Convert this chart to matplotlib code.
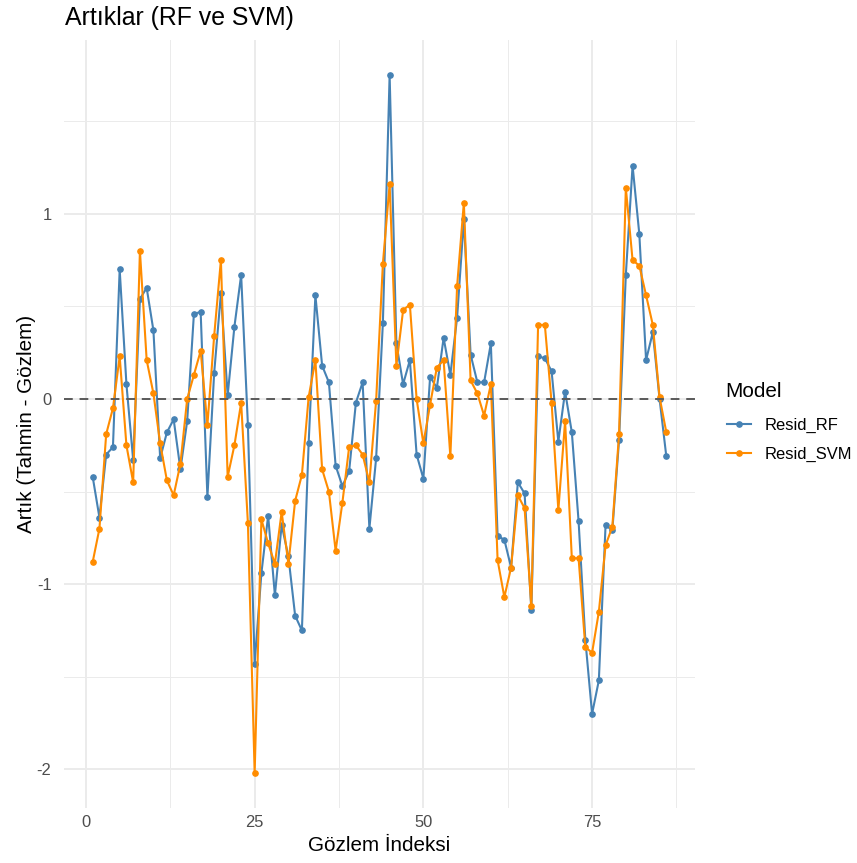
import matplotlib
matplotlib.use("Agg")
import matplotlib.pyplot as plt
import numpy as np

plt.rcParams['font.family'] = ['Liberation Sans', 'DejaVu Sans']

# Data
index = list(range(1, 87))
resid_rf = [-0.42, -0.64, -0.30, -0.26, 0.70, 0.08, -0.33, 0.54, 0.60, 0.37,
            -0.32, -0.18, -0.11, -0.38, -0.12, 0.46, 0.47, -0.53, 0.14, 0.57,
            0.02, 0.39, 0.67, -0.14, -1.43, -0.94, -0.63, -1.06, -0.68, -0.85,
            -1.17, -1.25, -0.24, 0.56, 0.18, 0.09, -0.36, -0.47, -0.39, -0.02,
            0.09, -0.70, -0.32, 0.41, 1.75, 0.30, 0.08, 0.21, -0.30, -0.43,
            0.12, 0.06, 0.33, 0.13, 0.44, 0.97, 0.24, 0.09, 0.09, 0.30,
            -0.74, -0.76, -0.91, -0.45, -0.51, -1.14, 0.23, 0.22, 0.15, -0.23,
            0.04, -0.18, -0.66, -1.30, -1.70, -1.52, -0.68, -0.71, -0.22, 0.67,
            1.26, 0.89, 0.21, 0.36, 0.00, -0.31]
resid_svm = [-0.88, -0.70, -0.19, -0.05, 0.23, -0.25, -0.45, 0.80, 0.21, 0.03,
             -0.24, -0.44, -0.52, -0.35, 0.00, 0.13, 0.26, -0.14, 0.34, 0.75,
             -0.42, -0.25, -0.02, -0.67, -2.02, -0.65, -0.78, -0.89, -0.61, -0.89,
             -0.55, -0.41, 0.01, 0.21, -0.38, -0.50, -0.82, -0.56, -0.26, -0.25,
             -0.30, -0.45, -0.01, 0.73, 1.16, 0.18, 0.48, 0.51, 0.00, -0.24,
             -0.03, 0.17, 0.21, -0.31, 0.61, 1.06, 0.10, 0.03, -0.09, 0.08,
             -0.87, -1.07, -0.91, -0.52, -0.59, -1.12, 0.40, 0.40, -0.02, -0.60,
             -0.12, -0.86, -0.86, -1.34, -1.37, -1.15, -0.79, -0.69, -0.19, 1.14,
             0.75, 0.72, 0.56, 0.40, 0.01, -0.18]
series_names = ["Resid_RF", "Resid_SVM"]
series_colors = ["#4682B4", "#FF8C00"]
x_ticks = [0, 25, 50, 75]
y_ticks = [-2, -1, 0, 1]

W, H = 857, 863
fig = plt.figure(figsize=(W / 100, H / 100), dpi=100)
L, R, T, B = 64, 695, 40, 808
ax = fig.add_axes([L / W, 1 - B / H, (R - L) / W, (B - T) / H])

for vals, name, col in zip([resid_rf, resid_svm], series_names, series_colors):
    ax.plot(index, vals, color=col, lw=1.5, marker='o', ms=3.8, label=name,
            solid_joinstyle='round', zorder=3)

ax.axhline(0, color='#5a5a5a', lw=1.4, linestyle=(0, (4.5, 3.5)), zorder=4)

# limits with ggplot-like expansion
xmin, xmax = min(index), max(index)
xr = xmax - xmin
ax.set_xlim(xmin - 0.05 * xr, xmax + 0.05 * xr)
allv = resid_rf + resid_svm
ymin, ymax = min(allv), max(allv)
yr = ymax - ymin
ax.set_ylim(ymin - 0.05 * yr, ymax + 0.05 * yr)

ax.set_xticks(x_ticks)
ax.set_yticks(y_ticks)
ax.set_xticks([12.5, 37.5, 62.5, 87.5], minor=True)
ax.set_yticks([-1.5, -0.5, 0.5, 1.5], minor=True)
ax.set_yticklabels([str(v) for v in y_ticks])
ax.grid(True, which='major', color='#EBEBEB', lw=1.4, zorder=0)
ax.grid(True, which='minor', color='#EBEBEB', lw=0.7, zorder=0)
ax.tick_params(which='both', length=0, labelsize=11.9, labelcolor='#4D4D4D')
ax.tick_params(axis='x', pad=5)
ax.tick_params(axis='y', pad=9)
for s in ax.spines.values():
    s.set_visible(False)

fig.text(65 / W, 1 - 25 / H, "Artıklar (RF ve SVM)", fontsize=17.9,
         ha='left', va='baseline', color='black')
fig.text((L + R) / 2 / W, 1 - 851 / H, "Gözlem İndeksi", fontsize=14.9,
         ha='center', va='baseline')
fig.text(32 / W, 1 - (T + B) / 2 / H, "Artık (Tahmin - Gözlem)", fontsize=14.9,
         ha='center', va='baseline', rotation=90, rotation_mode='anchor')

# legend title and entries
fig.text(725 / W, 1 - 397 / H, "Model", fontsize=14.9, ha='left', va='baseline')
leg = ax.legend(loc='center left',
                bbox_to_anchor=(727 / W, 1 - 440 / H), bbox_transform=fig.transFigure,
                frameon=False, borderpad=0, borderaxespad=0, fontsize=11.9,
                handlelength=1.45, handletextpad=0.8, labelspacing=0.86)

fig.savefig("out.png", dpi=100)
